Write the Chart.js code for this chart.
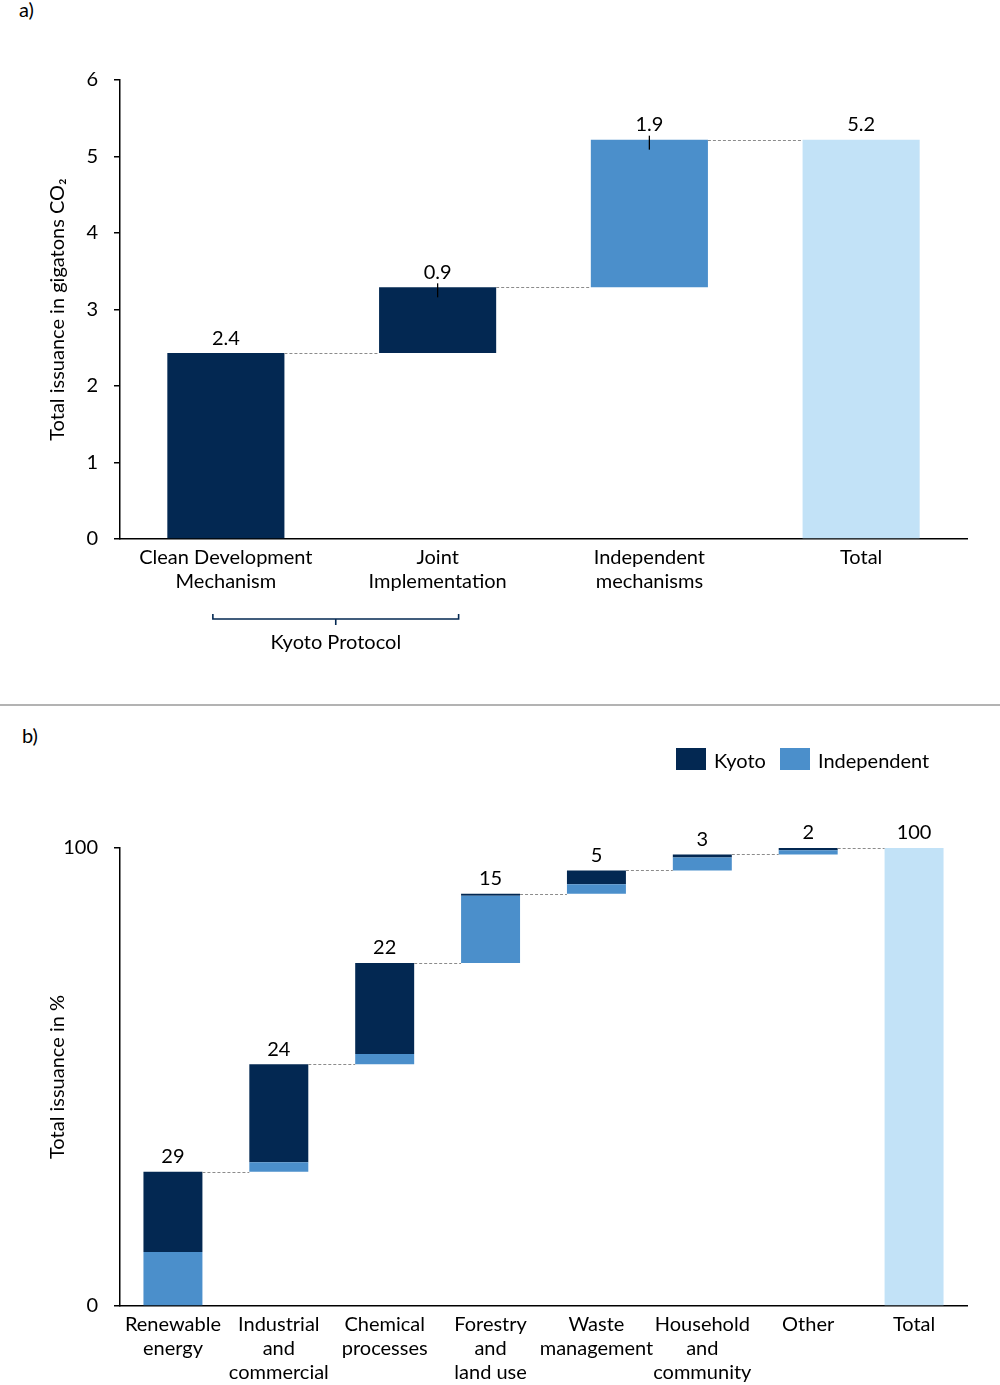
<!DOCTYPE html>
<html>
<head>
<meta charset="utf-8">
<script src="https://cdn.jsdelivr.net/npm/chart.js@4.4.0/dist/chart.umd.min.js"></script>
<style>
  body { margin: 0; background: #fff; width: 1000px; height: 1385px; position: relative; overflow: hidden; font-family: Lato, "Noto Sans", sans-serif; color: #000; }
  .panel { position: absolute; left: 0; width: 1000px; }
  #wrapA { top: 0; height: 700px; }
  #wrapB { top: 710px; height: 675px; }
  .tag { position: absolute; font-size: 20px; line-height: 22px; }
  #sep { position: absolute; left: 0; top: 704px; width: 1000px; height: 2px; background: #b3b3b3; }
  .sw { position: absolute; width: 30px; height: 22px; }
  .lg { position: absolute; font-size: 20px; line-height: 22px; }
</style>
</head>
<body>
<div class="tag" style="left:19px;top:-2px">a)</div>
<div class="panel" id="wrapA"><canvas id="chartA" width="1000" height="700"></canvas></div>
<div id="sep"></div>
<div class="tag" style="left:22px;top:724px">b)</div>
<div class="panel" id="wrapB"><canvas id="chartB" width="1000" height="675"></canvas></div>
<div class="sw" style="left:676px;top:748px;background:#032852"></div>
<div class="lg" style="left:714px;top:749px">Kyoto</div>
<div class="sw" style="left:780px;top:748px;background:#4b8fcb"></div>
<div class="lg" style="left:818px;top:749px">Independent</div>

<script>
// --- Datos ---
const NAVY = '#032852';
const MID = '#4b8fcb';
const LIGHT = '#c2e2f7';
const FONT = { family: 'Lato, "Noto Sans", sans-serif', size: 20 };

// a) mecanismos
const mechLabels = [['Clean Development', 'Mechanism'], ['Joint', 'Implementation'], ['Independent', 'mechanisms'], 'Total'];
const mechValues = [2.43, 0.86, 1.93];
const mechText = ['2.4', '0.9', '1.9', '5.2'];
const mechColors = [NAVY, NAVY, MID, LIGHT];
const mechLeader = [false, true, true, false];
const yTicksA = [0, 1, 2, 3, 4, 5, 6];

// b) sectores
const sectorLabels = [['Renewable', 'energy'], ['Industrial', 'and', 'commercial'], ['Chemical', 'processes'],
  ['Forestry', 'and', 'land use'], ['Waste', 'management'], ['Household', 'and', 'community'], 'Other', 'Total'];
const sectorIndep = [11.8, 2.1, 2.2, 14.7, 2.1, 2.8, 0.9];
const sectorKyoto = [17.5, 21.4, 19.9, 0.4, 3.0, 0.7, 0.5];
const sectorText = ['29', '24', '22', '15', '5', '3', '2', '100'];
const yTicksB = [0, 100];

// --- Acumulados para la cascada ---
let acc = 0;
const dataA = mechValues.map(v => { const r = [acc, acc + v]; acc += v; return r; });
dataA.push([0, acc]);
const topsA = dataA.map(d => d[1]);

acc = 0;
const indepData = [], kyotoData = [], topsB = [];
sectorIndep.forEach((v, i) => {
  indepData.push([acc, acc + v]);
  kyotoData.push([acc + v, acc + v + sectorKyoto[i]]);
  acc += v + sectorKyoto[i];
  topsB.push(acc);
});
indepData.push(null); kyotoData.push(null);
const totalData = sectorIndep.map(() => null);
totalData.push([0, 100]);
topsB.push(100);

// --- Plugin: conectores, etiquetas, llaves ---
const waterfallPlugin = {
  id: 'waterfall',
  afterDatasetsDraw(chart, args, opts) {
    const ctx = chart.ctx;
    const y = chart.scales.y;
    const bars = opts.tops.map((t, i) => {
      for (const ds of opts.geomFrom) {
        const el = chart.getDatasetMeta(ds).data[i];
        if (el && chart.data.datasets[ds].data[i]) return el;
      }
      return null;
    });
    ctx.save();
    // conectores punteados
    ctx.strokeStyle = '#8c8c8c';
    ctx.lineWidth = 1;
    ctx.setLineDash([3, 2]);
    for (let i = 0; i < bars.length - 1; i++) {
      const a = bars[i], b = bars[i + 1];
      const yy = Math.round(y.getPixelForValue(opts.tops[i])) + 0.5;
      ctx.beginPath();
      ctx.moveTo(a.x + a.width / 2, yy);
      ctx.lineTo(b.x - b.width / 2, yy);
      ctx.stroke();
    }
    ctx.setLineDash([]);
    // etiquetas
    ctx.fillStyle = '#000';
    ctx.font = `${FONT.size}px ${FONT.family}`;
    ctx.textAlign = 'center';
    ctx.textBaseline = 'bottom';
    bars.forEach((el, i) => {
      const yy = y.getPixelForValue(opts.tops[i]);
      ctx.fillText(opts.text[i], el.x, yy - 5);
      if (opts.leader && opts.leader[i]) {
        ctx.strokeStyle = '#000';
        ctx.lineWidth = 1.3;
        ctx.beginPath();
        ctx.moveTo(el.x, yy - 4);
        ctx.lineTo(el.x, yy + 10);
        ctx.stroke();
      }
    });
    // llave Kyoto Protocol
    if (opts.bracket) {
      const x0 = bars[0].x - 13, x1 = bars[1].x + 21, xm = (x0 + x1) / 2;
      const by = 619;
      ctx.strokeStyle = NAVY;
      ctx.lineWidth = 1.6;
      ctx.beginPath();
      ctx.moveTo(x0, by - 5); ctx.lineTo(x0, by); ctx.lineTo(x1, by); ctx.lineTo(x1, by - 5);
      ctx.moveTo(xm, by); ctx.lineTo(xm, by + 6);
      ctx.stroke();
      ctx.fillStyle = '#000';
      ctx.textBaseline = 'middle';
      ctx.fillText(opts.bracket, xm, 643);
    }
    ctx.restore();
  }
};

function axes(yMax, yTicks, yTitle, xHeight) {
  return {
    x: {
      grid: { display: false, drawTicks: false },
      border: { color: '#000', width: 1.5 },
      ticks: { color: '#000', font: FONT, padding: 7, maxRotation: 0, autoSkip: false },
      afterFit(s) { s.height = xHeight; }
    },
    y: {
      min: 0, max: yMax,
      afterBuildTicks(s) { s.ticks = yTicks.map(v => ({ value: v })); },
      grid: { drawOnChartArea: false, tickLength: 6, color: '#000', lineWidth: 1.5 },
      border: { color: '#000', width: 1.5 },
      ticks: { color: '#000', font: FONT, padding: 16 },
      title: { display: true, text: yTitle, color: '#000', font: FONT, padding: { top: 45, bottom: 0 } },
      afterFit(s) { s.width = 119; }
    }
  };
}

// --- Gráfica a ---
new Chart(document.getElementById('chartA'), {
  type: 'bar',
  data: {
    labels: mechLabels,
    datasets: [{ data: dataA, backgroundColor: mechColors, barPercentage: 0.553, categoryPercentage: 1 }]
  },
  options: {
    responsive: false, animation: false, devicePixelRatio: 1,
    layout: { padding: { left: 1, right: 33, top: 80, bottom: 0 } },
    plugins: {
      legend: { display: false }, tooltip: { enabled: false },
      waterfall: { tops: topsA, text: mechText, leader: mechLeader, geomFrom: [0], bracket: 'Kyoto Protocol' }
    },
    scales: axes(6, yTicksA, 'Total issuance in gigatons CO₂', 161)
  },
  plugins: [waterfallPlugin]
});

// --- Gráfica b ---
new Chart(document.getElementById('chartB'), {
  type: 'bar',
  data: {
    labels: sectorLabels,
    datasets: [
      { label: 'Independent', data: indepData, backgroundColor: MID, grouped: false, barPercentage: 0.557, categoryPercentage: 1 },
      { label: 'Kyoto', data: kyotoData, backgroundColor: NAVY, grouped: false, barPercentage: 0.557, categoryPercentage: 1 },
      { label: 'Total', data: totalData, backgroundColor: LIGHT, grouped: false, barPercentage: 0.557, categoryPercentage: 1 }
    ]
  },
  options: {
    responsive: false, animation: false, devicePixelRatio: 1,
    layout: { padding: { left: 1, right: 33, top: 138, bottom: 0 } },
    plugins: {
      legend: { display: false }, tooltip: { enabled: false },
      waterfall: { tops: topsB, text: sectorText, geomFrom: [1, 2] }
    },
    scales: axes(100, yTicksB, 'Total issuance in %', 79)
  },
  plugins: [waterfallPlugin]
});
</script>
</body>
</html>
